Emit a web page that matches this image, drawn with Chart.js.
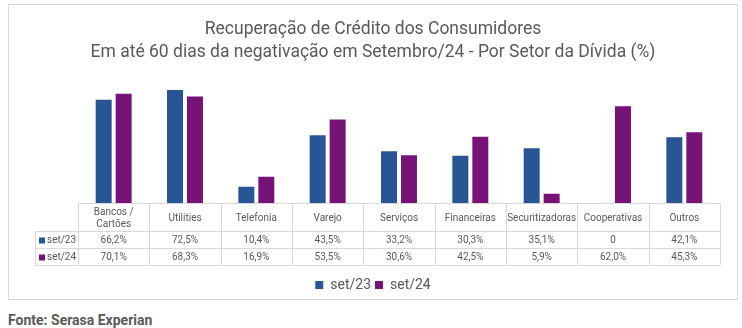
<!DOCTYPE html>
<html>
<head>
<meta charset="utf-8">
<script src="https://cdn.jsdelivr.net/npm/chart.js@4"></script>
<style>
  body { margin: 0; background: #fff; width: 742px; height: 328px; position: relative; overflow: hidden; }
  #box { position: absolute; left: 8px; top: 4px; width: 728px; height: 294px; border: 1px solid #d9d9d9; }
  #foot { position: absolute; left: 8px; top: 312px; font: bold 14px Roboto, sans-serif; color: #595959; }
</style>
</head>
<body>
<div id="box"><canvas id="chart" width="728" height="294"></canvas></div>
<div id="foot">Fonte: Serasa Experian</div>
<script>
const sectors = [["Bancos /", "Cartões"], "Utilities", "Telefonia", "Varejo", "Serviços", "Financeiras", "Securitizadoras", "Cooperativas", "Outros"];
const set23 = [66.2, 72.5, 10.4, 43.5, 33.2, 30.3, 35.1, 0, 42.1];
const set24 = [70.1, 68.3, 16.9, 53.5, 30.6, 42.5, 5.9, 62.0, 45.3];
const seriesNames = ["set/23", "set/24"];
const colors = ["#285594", "#771277"];

const textColor = "#595959";
const lineColor = "#d9d9d9";

function fmt(v) {
  if (v === 0) return "0";
  return v.toFixed(1).replace(".", ",") + "%";
}

// draws the data table under the bars, lined up with the x scale
const tablePlugin = {
  id: "dataTable",
  afterDraw(chart) {
    const ctx = chart.ctx;
    const x = chart.scales.x;
    const area = chart.chartArea;
    const colW = (area.right - area.left) / sectors.length;
    const top = area.bottom;
    const headH = 28, rowH = 17;
    const rowLeft = area.left - 43;
    const y1 = top + headH, y2 = y1 + rowH, y3 = y2 + rowH;

    ctx.save();
    ctx.strokeStyle = lineColor;
    ctx.lineWidth = 1;
    ctx.beginPath();
    ctx.moveTo(rowLeft, y1 + 0.5); ctx.lineTo(area.right, y1 + 0.5);
    ctx.moveTo(rowLeft, y2 + 0.5); ctx.lineTo(area.right, y2 + 0.5);
    ctx.moveTo(rowLeft, y3 + 0.5); ctx.lineTo(area.right, y3 + 0.5);
    ctx.moveTo(rowLeft + 0.5, y1); ctx.lineTo(rowLeft + 0.5, y3);
    for (let i = 0; i <= sectors.length; i++) {
      const xx = Math.round(area.left + i * colW) + 0.5;
      ctx.moveTo(xx, top); ctx.lineTo(xx, y3);
    }
    ctx.stroke();

    ctx.fillStyle = textColor;
    ctx.font = "10px Roboto, sans-serif";
    ctx.textAlign = "center";
    ctx.textBaseline = "middle";
    sectors.forEach((s, i) => {
      const cx = x.getPixelForValue(i);
      const lines = Array.isArray(s) ? s : [s];
      lines.forEach((ln, k) => {
        ctx.fillText(ln, cx, top + headH / 2 + 1 + (k - (lines.length - 1) / 2) * 12);
      });
      ctx.fillText(fmt(set23[i]), cx, y1 + rowH / 2 + 1);
      ctx.fillText(fmt(set24[i]), cx, y2 + rowH / 2 + 1);
    });

    // row headers
    ctx.textAlign = "left";
    [set23, set24].forEach((_, r) => {
      const cy = (r === 0 ? y1 : y2) + rowH / 2 + 1;
      ctx.fillStyle = colors[r];
      ctx.fillRect(rowLeft + 4, cy - 3, 6, 6);
      ctx.fillStyle = textColor;
      ctx.fillText(seriesNames[r], rowLeft + 12, cy);
    });
    ctx.restore();
  }
};

new Chart(document.getElementById("chart"), {
  type: "bar",
  data: {
    labels: sectors,
    datasets: [
      { label: seriesNames[0], data: set23, backgroundColor: colors[0] },
      { label: seriesNames[1], data: set24, backgroundColor: colors[1] }
    ]
  },
  options: {
    responsive: false,
    animation: false,
    categoryPercentage: 0.56,
    barPercentage: 0.8,
    layout: { padding: { left: 0, right: 0, top: 6, bottom: -3 } },
    plugins: {
      title: {
        display: true,
        text: ["Recuperação de Crédito dos Consumidores", "Em até 60 dias da negativação em Setembro/24 - Por Setor da Dívida (%)"],
        color: textColor,
        font: { family: "Roboto", size: 17.5, weight: "normal", lineHeight: 1.3 },
        padding: { top: 7, bottom: 10 }
      },
      legend: {
        position: "bottom",
        labels: {
          boxWidth: 8, boxHeight: 8, padding: 4,
          color: textColor,
          font: { family: "Roboto", size: 14 }
        }
      },
      tooltip: { enabled: false }
    },
    scales: {
      x: {
        grid: { display: false },
        border: { color: lineColor },
        ticks: { display: false },
        afterFit(axis) { axis.height = 71; }
      },
      y: {
        min: 0,
        max: 83,
        grid: { display: false },
        border: { display: false },
        ticks: { display: false },
        afterFit(axis) { axis.width = 69; }
      },
      yRight: {
        position: "right",
        grid: { display: false },
        border: { display: false },
        ticks: { display: false },
        afterFit(axis) { axis.width = 17; }
      }
    }
  },
  plugins: [tablePlugin]
});
</script>
</body>
</html>
